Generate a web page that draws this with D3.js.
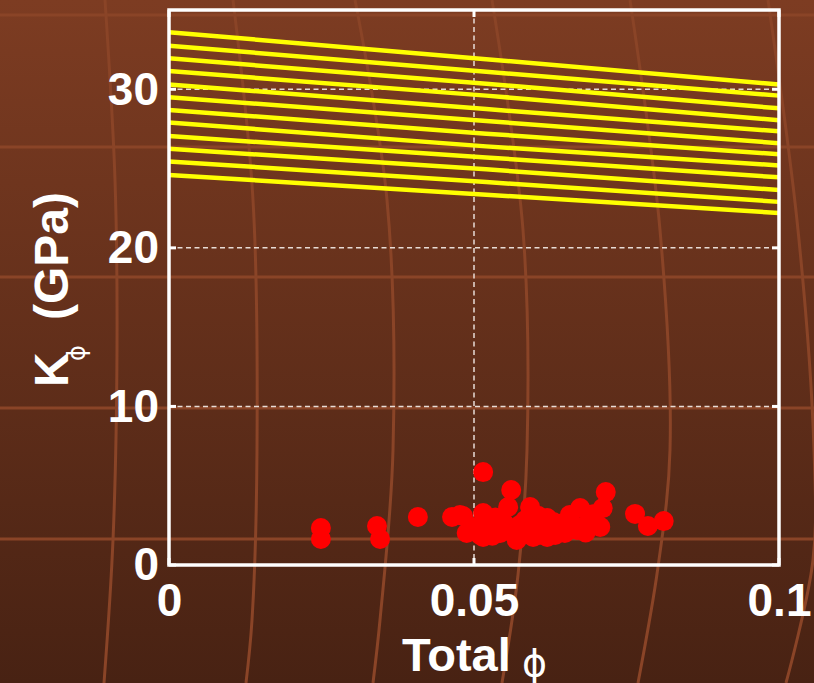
<html>
<head>
<script src="https://cdn.jsdelivr.net/npm/d3@7"></script>
<style>
  body { margin: 0; background: #5e2d1a; }
  svg { display: block; }
  .tick text { font-family: "Liberation Sans", Arial, sans-serif; font-weight: bold; fill: #fff; }
</style>
</head>
<body>
<div id="chart"></div>
<script>
// modelled curves: K at phi = 0, ~0.052 and 0.1 (12 curves)
var curvePhi = [0, 0.052, 0.1]
var kAtStart = [33.6, 32.75, 31.95, 31.15, 30.3, 29.5, 28.7, 27.9, 27.05, 26.25, 25.45, 24.6]
var kAtMid   = [31.9, 31.1, 30.35, 29.6, 28.75, 28.0, 27.2, 26.4, 25.7, 24.95, 24.15, 23.35]
var kAtEnd   = [30.3, 29.6, 28.8, 28.05, 27.35, 26.6, 25.9, 25.2, 24.45, 23.65, 22.9, 22.2]

// measured samples
var phiObs = [0.0249, 0.0249, 0.0341, 0.0346, 0.0408, 0.0464, 0.0482, 0.0515, 0.0561, 0.0716,
              0.0711, 0.0764, 0.0785, 0.0811, 0.0477, 0.0488, 0.0498, 0.0510, 0.0515, 0.0515,
              0.0543, 0.0556, 0.0570, 0.0592, 0.0597, 0.0613, 0.0620, 0.0620, 0.0630, 0.0646,
              0.0649, 0.0657, 0.0674, 0.0669, 0.0679, 0.0690, 0.0703, 0.0707, 0.0526, 0.0575,
              0.0633, 0.0584, 0.0543, 0.0500, 0.0530, 0.0550, 0.0565, 0.0580, 0.0600, 0.0608,
              0.0622, 0.0640, 0.0660, 0.0683, 0.0535, 0.0605, 0.0695]
var kObs   = [2.33, 1.64, 2.46, 1.64, 3.03, 3.03, 3.09, 5.86, 4.73, 4.60,
              3.59, 3.22, 2.46, 2.77, 3.15, 2.02, 2.40, 1.89, 1.77, 3.28,
              2.21, 3.66, 1.58, 3.66, 1.77, 2.21, 2.96, 1.77, 2.71, 2.21,
              2.02, 3.15, 3.59, 2.21, 2.40, 2.84, 2.52, 2.40, 2.52, 2.52,
              1.89, 2.84, 2.02, 2.20, 1.85, 2.60, 2.05, 2.30, 2.50, 1.90,
              2.40, 2.60, 2.50, 2.05, 3.00, 3.10, 3.20]

var xTicks = [0, 0.05, 0.1]
var xTickLabels = ["0", "0.05", "0.1"]
var yTicks = [0, 10, 20, 30]

var W = 814, H = 683
var pL = 169, pR = 779, pT = 10, pB = 565

var svg = d3.select('#chart').append('svg')
  .attr('width', W)
  .attr('height', H)

// slide background
var grad = svg.append('defs').append('linearGradient')
  .attr('id', 'bg').attr('x1', 0).attr('y1', 0).attr('x2', 0).attr('y2', 1)
grad.append('stop').attr('offset', '0%').attr('stop-color', '#7d3c22')
grad.append('stop').attr('offset', '100%').attr('stop-color', '#482213')
svg.append('rect').attr('width', W).attr('height', H).attr('fill', 'url(#bg)')

var bgRows = [15, 147, 277, 408, 539]
var bgCols = [
  [[105, 0], [115, 180], [117, 350], [113, 540], [104, 683]],
  [[233, 0], [253, 200], [257, 450], [252, 620], [246, 683]],
  [[355, 0], [387, 200], [393, 450], [380, 620], [373, 683]],
  [[492, 0], [523, 230], [527, 450], [518, 575], [502, 683]],
  [[630, 0], [660, 230], [670, 450], [658, 567], [638, 683]],
  [[768, 0], [798, 230], [814, 450], [813, 560], [786, 683]]
]
svg.selectAll('.bgrow').data(bgRows).enter().append('line')
  .attr('x1', 0).attr('x2', W)
  .attr('y1', function(d){ return d }).attr('y2', function(d){ return d })
  .attr('stroke', '#8a4427').attr('stroke-width', 3)
svg.selectAll('.bgcol').data(bgCols).enter().append('path')
  .attr('d', d3.line().curve(d3.curveCatmullRom))
  .attr('fill', 'none')
  .attr('stroke', '#8a4427').attr('stroke-width', 3)

var x = d3.scaleLinear().domain([0, 0.1]).range([pL, pR])
var y = d3.scaleLinear().domain([0, 35]).range([pB, pT])

// dashed grid
svg.selectAll('.hgrid').data([10, 20, 30]).enter().append('line')
  .attr('x1', pL).attr('x2', pR)
  .attr('y1', function(d){ return y(d) }).attr('y2', function(d){ return y(d) })
  .attr('stroke', '#e8dcd6').attr('stroke-width', 1.5).attr('stroke-dasharray', '5,3.5')
svg.append('line')
  .attr('x1', x(0.05)).attr('x2', x(0.05)).attr('y1', pT).attr('y2', pB)
  .attr('stroke', '#e8dcd6').attr('stroke-width', 1.5).attr('stroke-dasharray', '5,3.5')

// yellow model curves
var curves = kAtStart.map(function(k, i){
  return [k, kAtMid[i], kAtEnd[i]].map(function(v, j){ return { phi: curvePhi[j], k: v } })
})
var line = d3.line()
  .x(function(d){ return x(d.phi) })
  .y(function(d){ return y(d.k) })
svg.selectAll('.curve').data(curves).enter().append('path')
  .attr('d', line)
  .attr('fill', 'none')
  .attr('stroke', '#ffff00')
  .attr('stroke-width', 4.5)

// red samples
svg.selectAll('.pt').data(phiObs).enter().append('circle')
  .attr('cx', function(d){ return x(d) })
  .attr('cy', function(d, i){ return y(kObs[i]) })
  .attr('r', 10)
  .attr('fill', '#ff0000')

// axes box
svg.append('rect')
  .attr('x', pL).attr('y', pT)
  .attr('width', pR - pL).attr('height', pB - pT)
  .attr('fill', 'none').attr('stroke', '#fff').attr('stroke-width', 3.5)

// inner ticks
yTicks.forEach(function(t){
  svg.append('line').attr('x1', pL).attr('x2', pL + 7).attr('y1', y(t)).attr('y2', y(t))
    .attr('stroke', '#fff').attr('stroke-width', 3)
  svg.append('line').attr('x1', pR - 7).attr('x2', pR).attr('y1', y(t)).attr('y2', y(t))
    .attr('stroke', '#fff').attr('stroke-width', 3)
})
xTicks.forEach(function(t){
  svg.append('line').attr('x1', x(t)).attr('x2', x(t)).attr('y1', pB).attr('y2', pB - 7)
    .attr('stroke', '#fff').attr('stroke-width', 3)
  svg.append('line').attr('x1', x(t)).attr('x2', x(t)).attr('y1', pT).attr('y2', pT + 7)
    .attr('stroke', '#fff').attr('stroke-width', 3)
})

// tick labels
var yAxis = svg.append('g')
  .attr('transform', 'translate(' + pL + ',0)')
  .call(d3.axisLeft(y).tickValues(yTicks).tickSize(0).tickPadding(10))
var xAxis = svg.append('g')
  .attr('transform', 'translate(0,' + pB + ')')
  .call(d3.axisBottom(x).tickValues(xTicks).tickSize(0).tickPadding(18)
    .tickFormat(function(d, i){ return xTickLabels[i] }))
yAxis.select('.domain').remove()
xAxis.select('.domain').remove()
yAxis.selectAll('text').style('font-size', '46px')
xAxis.selectAll('text').style('font-size', '46px')

// axis titles
svg.append('text')
  .attr('x', 402).attr('y', 671)
  .attr('fill', '#fff')
  .style('font-family', '"Liberation Sans", Arial, sans-serif')
  .style('font-weight', 'bold').style('font-size', '47px')
  .text('Total')
svg.append('text')
  .attr('x', 522).attr('y', 676)
  .attr('fill', '#fff')
  .style('font-family', '"DejaVu Sans", sans-serif')
  .style('font-size', '38px')
  .text('ϕ')

var yt = svg.append('g').attr('transform', 'translate(68,0) rotate(-90)')
yt.append('text')
  .attr('x', -387).attr('y', 0)
  .attr('fill', '#fff')
  .style('font-family', '"Liberation Sans", Arial, sans-serif')
  .style('font-weight', 'bold').style('font-size', '48px')
  .text('K')
yt.append('text')
  .attr('x', -361).attr('y', 17)
  .attr('fill', '#fff')
  .style('font-family', '"DejaVu Sans", sans-serif')
  .style('font-size', '24px')
  .text('ϕ')
yt.append('text')
  .attr('x', -320).attr('y', 0)
  .attr('fill', '#fff')
  .style('font-family', '"Liberation Sans", Arial, sans-serif')
  .style('font-weight', 'bold').style('font-size', '48px')
  .text('(GPa)')
</script>
</body>
</html>
